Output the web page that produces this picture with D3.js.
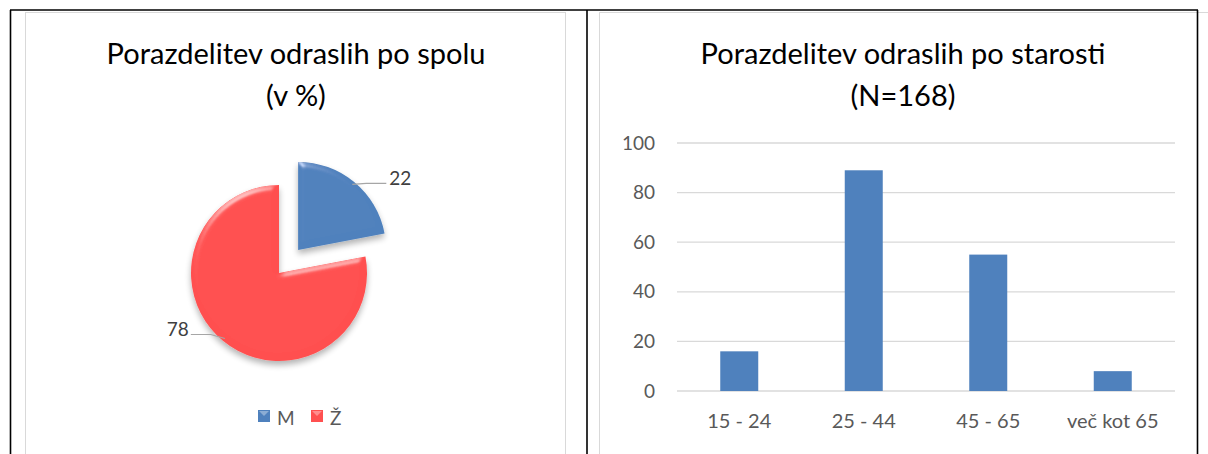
<!DOCTYPE html>
<html>
<head>
<meta charset="utf-8">
<script src="https://cdn.jsdelivr.net/npm/d3@7"></script>
<style>
  body { margin: 0; background: #fff; }
  text { font-family: Lato, "Open Sans", sans-serif; }
</style>
</head>
<body>
<div class="container"></div>
<script>
// podatki
const spolKategorije = ["M", "Ž"]
const spolVrednosti = [22, 78]
const spolBarve = ["#4F81BD", "#FF5050"]

const starostKategorije = ["15 - 24", "25 - 44", "45 - 65", "več kot 65"]
const starostVrednosti = [16, 89, 55, 8]
const yTicks = [0, 20, 40, 60, 80, 100]

const svg = d3.select(".container")
              .append("svg")
              .attr("width", 1208)
              .attr("height", 454)

const defs = svg.append("defs")

// bevel + senca za pito
const bevel = defs.append("filter")
                  .attr("id", "bevel")
                  .attr("x", "-20%").attr("y", "-20%")
                  .attr("width", "140%").attr("height", "140%")
bevel.append("feGaussianBlur").attr("in", "SourceAlpha").attr("stdDeviation", 3).attr("result", "blur")
const spec = bevel.append("feSpecularLighting")
                  .attr("in", "blur").attr("surfaceScale", 4)
                  .attr("specularConstant", 0.6).attr("specularExponent", 25)
                  .attr("lighting-color", "#ffffff").attr("result", "spec")
spec.append("fePointLight").attr("x", -4000).attr("y", -8000).attr("z", 3000)
bevel.append("feComposite").attr("in", "spec").attr("in2", "SourceAlpha").attr("operator", "in").attr("result", "specOut")
bevel.append("feComposite").attr("in", "SourceGraphic").attr("in2", "specOut")
     .attr("operator", "arithmetic").attr("k1", 0).attr("k2", 1).attr("k3", 0.7).attr("k4", 0)
     .attr("result", "lit")
bevel.append("feGaussianBlur").attr("in", "SourceAlpha").attr("stdDeviation", 3).attr("result", "sblur")
bevel.append("feOffset").attr("in", "sblur").attr("dx", 0).attr("dy", 4).attr("result", "soff")
bevel.append("feComponentTransfer").attr("in", "soff").attr("result", "shadow")
     .append("feFuncA").attr("type", "linear").attr("slope", 0.3)
const merge = bevel.append("feMerge")
merge.append("feMergeNode").attr("in", "shadow")
merge.append("feMergeNode").attr("in", "lit")

// okvirji tabele
const okvir = svg.append("g")
okvir.append("rect")
     .attr("x", 25.5).attr("y", 12.5).attr("width", 540).attr("height", 460)
     .attr("fill", "none").attr("stroke", "#D9D9D9")
okvir.append("rect")
     .attr("x", 599.5).attr("y", 12.5).attr("width", 620).attr("height", 460)
     .attr("fill", "none").attr("stroke", "#D9D9D9")
const crte = [[10, 10, 1198, 10], [10.5, 10, 10.5, 454], [587, 10, 587, 454], [1197.5, 10, 1197.5, 454]]
okvir.selectAll(".crta")
     .data(crte)
     .join("line")
     .attr("x1", d => d[0]).attr("y1", d => d[1])
     .attr("x2", d => d[2]).attr("y2", d => d[3])
     .attr("stroke", "#000").attr("stroke-width", 1.6)

// ---------- pita ----------
const pita = svg.append("g")
pita.selectAll(".naslov")
    .data(["Porazdelitev odraslih po spolu", "(v %)"])
    .join("text")
    .text(d => d)
    .attr("x", 296)
    .attr("y", (_, i) => 52 + i * 42)
    .attr("text-anchor", "middle")
    .attr("dominant-baseline", "central")
    .attr("font-size", 29)
    .attr("fill", "#000")

const center = {x: 279, y: 273}
const r = 88
const explode = 30
const pie = d3.pie().sort(null)(spolVrednosti)
const arc = d3.arc().innerRadius(0).outerRadius(r)

const zamik = (d, i) => {
  if (i !== 0) return [0, 0]
  const a = (d.startAngle + d.endAngle) / 2
  return [Math.sin(a) * explode, -Math.cos(a) * explode]
}

pita.selectAll(".slice")
    .data(pie)
    .join("path")
    .attr("d", arc)
    .attr("transform", (d, i) => {
      const z = zamik(d, i)
      return `translate(${center.x + z[0]} ${center.y + z[1]})`
    })
    .attr("fill", (_, i) => spolBarve[i])
    .attr("filter", "url(#bevel)")

// oznake podatkov
pita.selectAll(".oznaka")
    .data(pie)
    .join("g")
    .each(function (d, i) {
      const z = zamik(d, i)
      const a = (d.startAngle + d.endAngle) / 2
      const cx = center.x + z[0], cy = center.y + z[1]
      const p0 = [cx + Math.sin(a) * (r - 3), cy - Math.cos(a) * (r - 3)]
      const desno = Math.sin(a) > 0
      const p1 = desno ? [p0[0] + 14, p0[1] - 1] : [p0[0] - 14, p0[1] - 4]
      const p2 = desno ? [p1[0] + 20, p1[1]] : [p1[0] - 20, p1[1]]
      d3.select(this).append("path")
        .attr("d", d3.line()([p0, p1, p2]))
        .attr("fill", "none")
        .attr("stroke", "#A6A6A6")
        .attr("stroke-width", 1.2)
      d3.select(this).append("text")
        .text(d.data)
        .attr("x", desno ? p2[0] + 3 : p2[0] - 2)
        .attr("y", p2[1] - 6)
        .attr("text-anchor", desno ? "start" : "end")
        .attr("dominant-baseline", "central")
        .attr("font-size", 19)
        .attr("fill", "#404040")
    })

// legenda
const legenda = pita.selectAll(".leg")
                    .data(spolKategorije)
                    .join("g")
                    .attr("transform", (_, i) => `translate(${258 + i * 53} 410)`)
legenda.append("rect")
       .attr("width", 12).attr("height", 12)
       .attr("fill", (_, i) => spolBarve[i])
legenda.append("path")
       .attr("d", "M1,1 L11,1 L6,6 Z")
       .attr("fill", "#fff").attr("opacity", 0.35)
legenda.append("text")
       .text(d => d)
       .attr("x", 19).attr("y", 7)
       .attr("dominant-baseline", "central")
       .attr("font-size", 19)
       .attr("fill", "#595959")

// ---------- stolpci ----------
const stolpci = svg.append("g")
stolpci.selectAll(".naslov")
       .data(["Porazdelitev odraslih po starosti", "(N=168)"])
       .join("text")
       .text(d => d)
       .attr("x", 903)
       .attr("y", (_, i) => 52 + i * 42)
       .attr("text-anchor", "middle")
       .attr("dominant-baseline", "central")
       .attr("font-size", 29)
       .attr("fill", "#000")

const plot = {left: 677, right: 1175, top: 143, bottom: 391}
const x = d3.scaleBand()
            .domain(starostKategorije)
            .range([plot.left, plot.right])
const y = d3.scaleLinear()
            .domain([0, 100])
            .range([plot.bottom, plot.top])

stolpci.selectAll(".grid")
       .data(yTicks)
       .join("line")
       .attr("x1", plot.left).attr("x2", plot.right)
       .attr("y1", d => y(d)).attr("y2", d => y(d))
       .attr("stroke", "#D9D9D9").attr("stroke-width", 1.3)

const yAxis = stolpci.append("g")
                     .attr("transform", `translate(${plot.left - 22} 0)`)
                     .call(d3.axisLeft(y).tickValues(yTicks).tickSize(0).tickPadding(0))
yAxis.select(".domain").remove()
yAxis.selectAll("text")
     .attr("font-family", "Lato, sans-serif")
     .attr("font-size", 19)
     .attr("fill", "#595959")

const sirina = 38
stolpci.selectAll(".bar")
       .data(starostVrednosti)
       .join("rect")
       .attr("x", (_, i) => x(starostKategorije[i]) + x.bandwidth() / 2 - sirina / 2)
       .attr("y", d => y(d))
       .attr("width", sirina)
       .attr("height", d => y(0) - y(d))
       .attr("fill", "#4F81BD")

const xAxis = stolpci.append("g")
                     .attr("transform", `translate(0 ${plot.bottom + 23})`)
                     .call(d3.axisBottom(x).tickSize(0).tickPadding(0))
xAxis.select(".domain").remove()
xAxis.selectAll("text")
     .attr("font-family", "Lato, sans-serif")
     .attr("font-size", 20)
     .attr("fill", "#595959")
</script>
</body>
</html>
